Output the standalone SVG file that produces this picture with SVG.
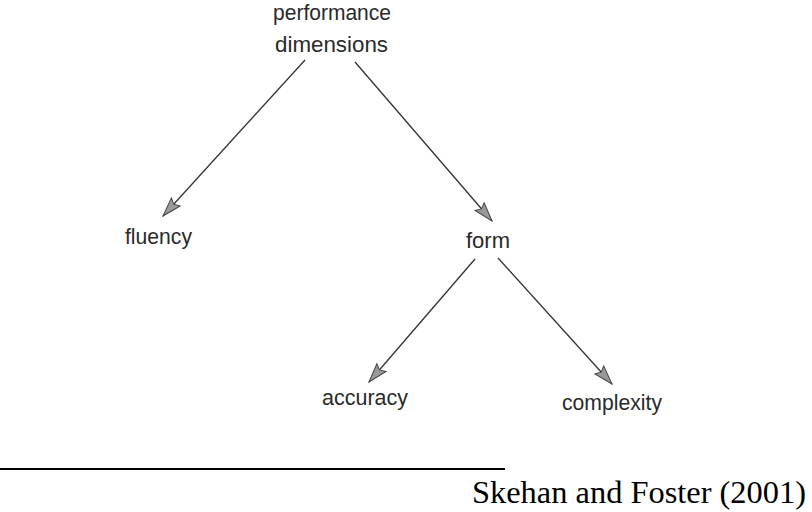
<svg xmlns="http://www.w3.org/2000/svg" width="812" height="512" viewBox="0 0 812 512">
  <style>
    .lbl { font-family: "Liberation Sans", Arial, sans-serif; font-size: 22px; fill: #2a2a2a; }
    .cap { font-family: "Liberation Serif", "Times New Roman", serif; font-size: 32px; fill: #000; }
    .edge { stroke: #333; stroke-width: 1.3; fill: none; marker-end: url(#arr); }
  </style>
  <defs>
    <marker id="arr" markerUnits="userSpaceOnUse" markerWidth="24" markerHeight="16" refX="20" refY="7" orient="auto">
      <path d="M1,1 L20,7 L1,13 L4,7 Z" fill="#999" stroke="#444" stroke-width="1"/>
    </marker>
  </defs>
  <rect width="812" height="512" fill="#fff"/>
  <g id="connectors">
    <line class="edge" x1="305" y1="60" x2="163" y2="216"/>
    <line class="edge" x1="355" y1="62" x2="492" y2="221"/>
    <line class="edge" x1="475" y1="259" x2="369" y2="382"/>
    <line class="edge" x1="498" y1="258" x2="612" y2="384"/>
  </g>
  <g id="node-performance">
    <text class="lbl" x="273" y="20" textLength="118" lengthAdjust="spacingAndGlyphs">performance</text>
    <text class="lbl" x="275" y="52" textLength="113" lengthAdjust="spacingAndGlyphs">dimensions</text>
  </g>
  <g id="node-fluency">
    <text class="lbl" x="125" y="244" textLength="67" lengthAdjust="spacingAndGlyphs">fluency</text>
  </g>
  <g id="node-form">
    <text class="lbl" x="466" y="248" textLength="44" lengthAdjust="spacingAndGlyphs">form</text>
  </g>
  <g id="node-accuracy">
    <text class="lbl" x="322" y="405" textLength="86" lengthAdjust="spacingAndGlyphs">accuracy</text>
  </g>
  <g id="node-complexity">
    <text class="lbl" x="562" y="410" textLength="100" lengthAdjust="spacingAndGlyphs">complexity</text>
  </g>
  <g id="caption">
    <line x1="0" y1="469" x2="505" y2="469" stroke="#000" stroke-width="2"/>
    <text class="cap" x="472" y="503" textLength="334" lengthAdjust="spacingAndGlyphs">Skehan and Foster (2001)</text>
  </g>
</svg>
